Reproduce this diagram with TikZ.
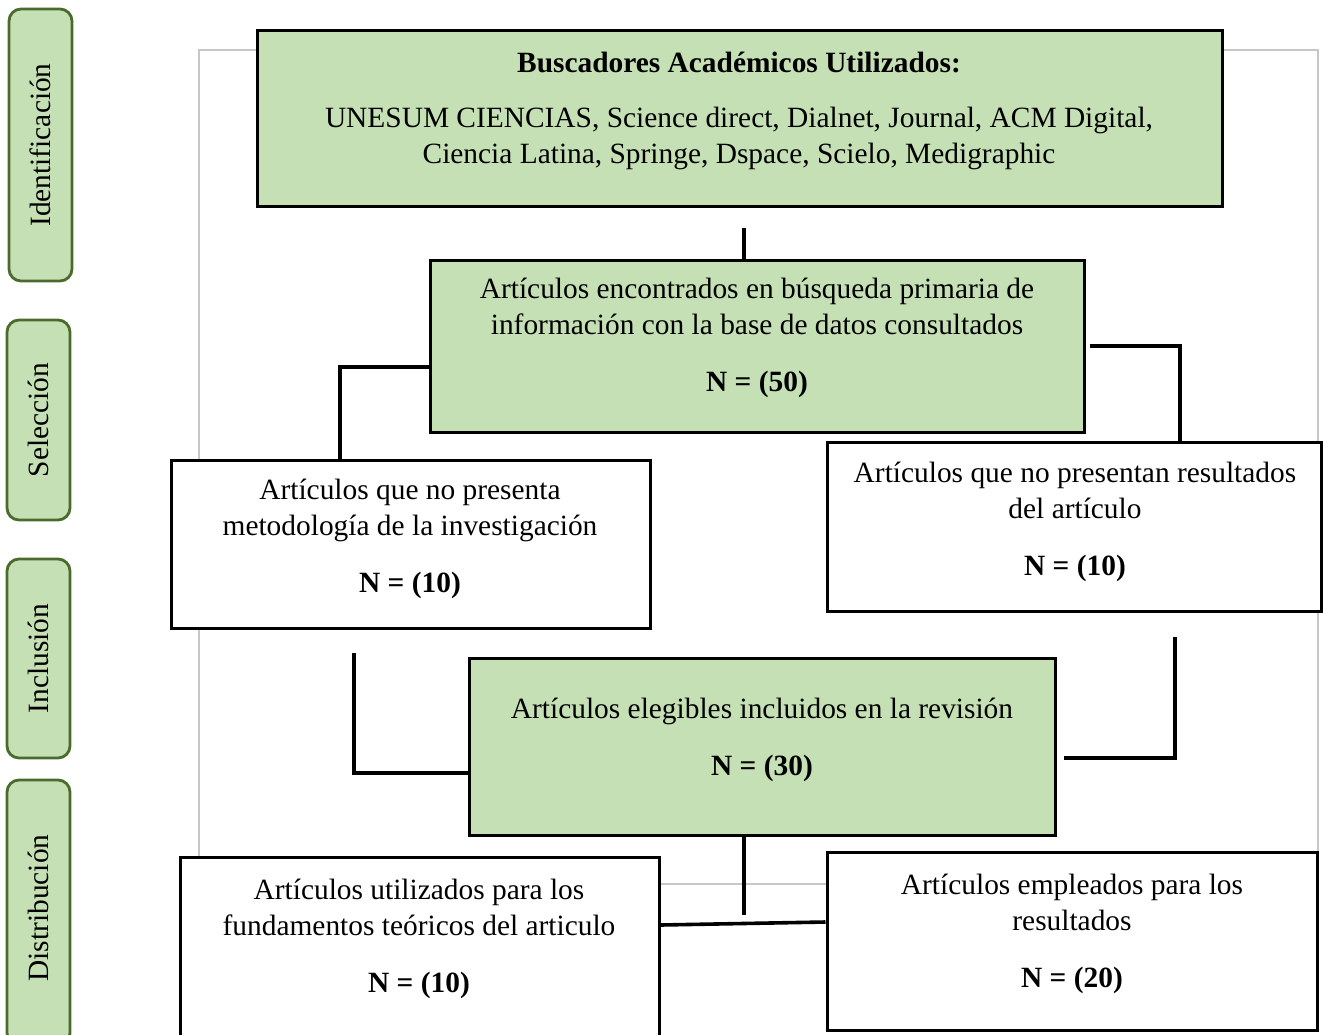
\documentclass[tikz,border=0pt]{standalone}
\usepackage{fontspec}
\setmainfont{Liberation Serif}
\definecolor{lgreen}{HTML}{C5E0B4}
\definecolor{dgreen}{HTML}{4A6B2C}
\begin{document}
\begin{tikzpicture}[x=0.5pt,y=-0.5pt,
  txt/.style={font=\fontsize{14.7}{18}\selectfont, align=center, inner sep=0pt},
  gbox/.style={draw=black, line width=1.5pt, fill=lgreen, inner sep=0pt},
  wbox/.style={draw=black, line width=1.5pt, fill=white, inner sep=0pt},
  tab/.style={draw=dgreen, line width=1.4pt, fill=lgreen, rounded corners=6pt, inner sep=0pt},
  tabtxt/.style={font=\fontsize{14.7}{18}\selectfont, rotate=90, inner sep=0pt},
  conn/.style={draw=black, line width=1.8pt},
  frame/.style={draw=black!22, line width=0.75pt}]
\useasboundingbox (0,0) rectangle (1323,1034);
% gray background frame
\draw[frame] (199,50) rectangle (1318,884);
% side tabs
\node[tab, minimum width=31.5pt, minimum height=136pt] (t1) at (40.5,145) {};
\node[tabtxt] (t1txt) at (t1.center) {Identificación};
\node[tab, minimum width=31.5pt, minimum height=100pt] (t2) at (38.5,420) {};
\node[tabtxt] (t2txt) at (t2.center) {Selección};
\node[tab, minimum width=31.5pt, minimum height=99.5pt] (t3) at (38.5,658.5) {};
\node[tabtxt] (t3txt) at (t3.center) {Inclusión};
\node[tab, minimum width=31.5pt, minimum height=132.5pt] (t4) at (38.5,912.5) {};
\node[tabtxt] (t4txt) at (38.5,908) {Distribución};
% boxes
\node[gbox, minimum width=482.5pt, minimum height=88pt] (top) at (739.5,118) {};
\node[txt] (toptitle) at (739,62) {\textbf{Buscadores Académicos Utilizados:}};
\node[txt] (toptxt) at (739,138) {UNESUM CIENCIAS, Science direct, Dialnet, Journal, ACM Digital,\\Ciencia Latina, Springe, Dspace, Scielo, Medigraphic};
\node[gbox, minimum width=327pt, minimum height=86pt] (b2) at (757,346) {};
\node[txt] (b2txt) at (757,338) {Artículos encontrados en búsqueda primaria de\\información con la base de datos consultados\\[10.5pt]\textbf{N = (50)}};
\node[wbox, minimum width=239.5pt, minimum height=84pt] (l1) at (410.5,544) {};
\node[txt] (l1txt) at (410,538.5) {Artículos que no presenta\\metodología de la investigación\\[10.5pt]\textbf{N = (10)}};
\node[wbox, minimum width=247pt, minimum height=84.5pt] (r1) at (1074,526.5) {};
\node[txt] (r1txt) at (1075,521.5) {Artículos que no presentan resultados\\del artículo\\[10.5pt]\textbf{N = (10)}};
\node[gbox, minimum width=293pt, minimum height=88.5pt] (c3) at (762,746.5) {};
\node[txt] (c3txt) at (762,739.5) {Artículos elegibles incluidos en la revisión\\[10.5pt]\textbf{N = (30)}};
\node[wbox, minimum width=239.5pt, minimum height=93.5pt] (l2) at (419.5,950.5) {};
\node[txt] (l2txt) at (419,938.5) {Artículos utilizados para los\\fundamentos teóricos del articulo\\[10.5pt]\textbf{N = (10)}};
\node[wbox, minimum width=245pt, minimum height=89pt] (r2) at (1072,941) {};
\node[txt] (r2txt) at (1072,933.5) {Artículos empleados para los\\resultados\\[10.5pt]\textbf{N = (20)}};
% connectors
\coordinate (c1) at (744,228);
\draw[conn] (c1) -- (c1 |- b2.north);
\draw[conn] (b2.west |- 0,367) -| (340,0 |- l1.north);
\draw[conn] ([xshift=2pt]b2.east) -| (1180,0 |- r1.north);
\coordinate (c4) at (354,653);
\draw[conn] (c4) |- (c3.west |- 0,773);
\coordinate (c5) at (1175,637);
\draw[conn] (c5) |- ([xshift=3.5pt]c3.east |- 0,758);
\coordinate (c6) at (744,915);
\draw[conn] (c6 |- c3.south) -- (c6);
\draw[conn] (l2.east |- 0,925) -- (r2.west |- 0,922);
\end{tikzpicture}
\end{document}
